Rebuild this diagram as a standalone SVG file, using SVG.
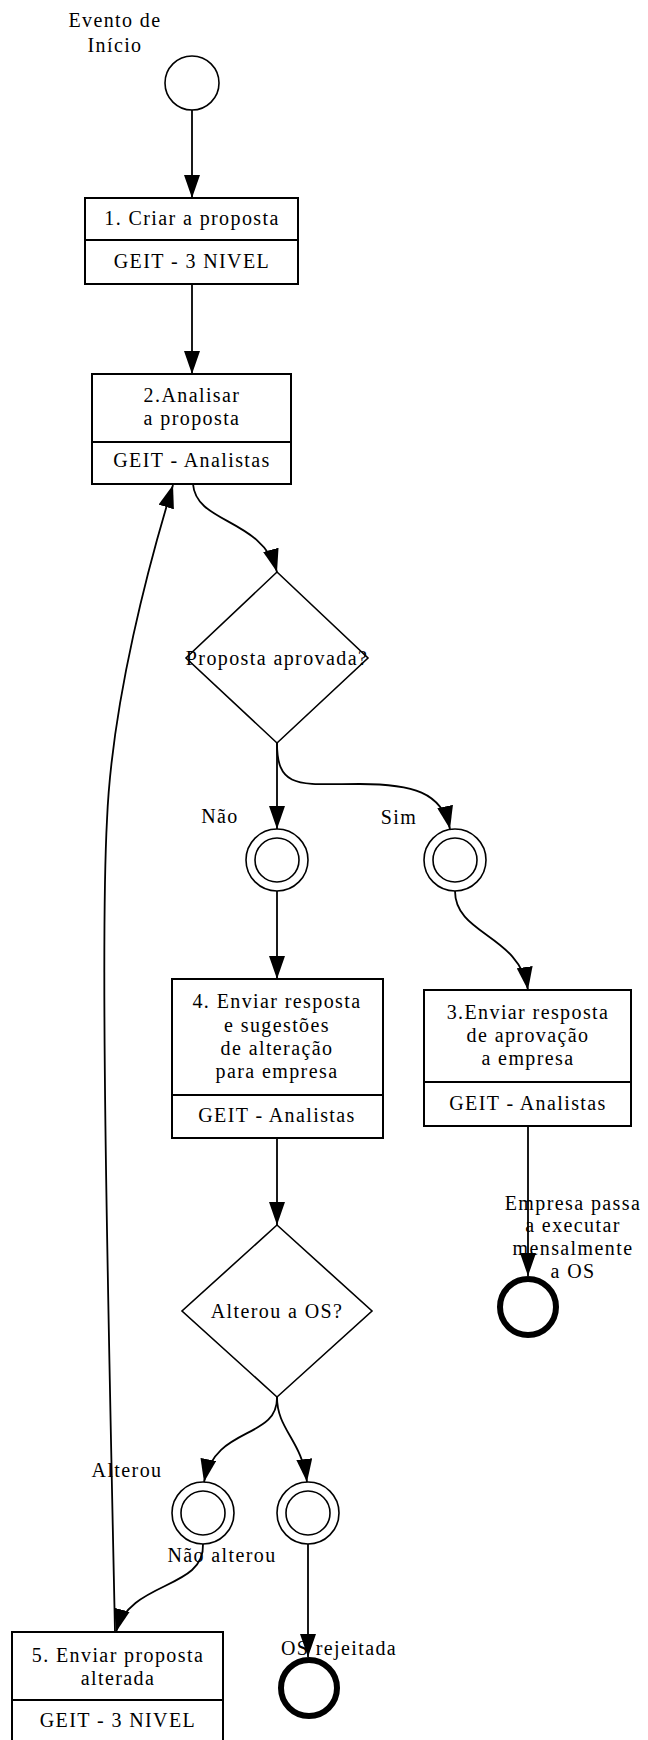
<svg xmlns="http://www.w3.org/2000/svg" width="648" height="1740" viewBox="0 0 648 1740">
<defs>
<marker id="arr" viewBox="0 0 23 16" refX="23" refY="8" markerWidth="23" markerHeight="16" markerUnits="userSpaceOnUse" orient="auto"><path d="M0,0 L23,8 L0,16 z" fill="#000"/></marker>
</defs>
<style>
text{font-family:"Liberation Serif","Times New Roman",serif;font-size:20px;letter-spacing:1.4px;text-anchor:middle;fill:#000}
.box{fill:#fff;stroke:#000;stroke-width:2}
.div{stroke:#000;stroke-width:2}
.dia{fill:#fff;stroke:#000;stroke-width:1.6}
.ev{fill:#fff;stroke:#000;stroke-width:1.6}
.end{fill:#fff;stroke:#000;stroke-width:6}
.edge{fill:none;stroke:#000;stroke-width:1.8;marker-end:url(#arr)}
</style>
<rect width="648" height="1740" fill="#fff"/>

<g id="start">
<circle class="ev" cx="192" cy="83" r="27"/>
<text x="115" y="27">Evento de</text>
<text x="115" y="52">Início</text>
</g>
<g id="task1">
<rect class="box" x="85" y="198" width="213" height="86"/>
<line class="div" x1="85" y1="240" x2="298" y2="240"/>
<text x="192" y="225">1. Criar a proposta</text>
<text x="192" y="268">GEIT - 3 NIVEL</text>
</g>
<g id="task2">
<rect class="box" x="92" y="374" width="199" height="110"/>
<line class="div" x1="92" y1="442" x2="291" y2="442"/>
<text x="192" y="402">2.Analisar</text>
<text x="192" y="425">a proposta</text>
<text x="192" y="467">GEIT - Analistas</text>
</g>
<g id="decision1">
<polygon class="dia" points="277,572 368,658 277,743 186,658"/>
<text x="277" y="665">Proposta aprovada?</text>
</g>
<g id="gwNao">
<circle class="ev" cx="277" cy="860" r="31"/>
<circle class="ev" cx="277" cy="860" r="22"/>
</g>
<g id="gwSim">
<circle class="ev" cx="455" cy="860" r="31"/>
<circle class="ev" cx="455" cy="860" r="22"/>
</g>
<g id="task4">
<rect class="box" x="172" y="979" width="211" height="159"/>
<line class="div" x1="172" y1="1095" x2="383" y2="1095"/>
<text x="277" y="1008">4. Enviar resposta</text>
<text x="277" y="1032">e sugestões</text>
<text x="277" y="1055">de alteração</text>
<text x="277" y="1078">para empresa</text>
<text x="277" y="1122">GEIT - Analistas</text>
</g>
<g id="task3">
<rect class="box" x="424" y="990" width="207" height="136"/>
<line class="div" x1="424" y1="1082" x2="631" y2="1082"/>
<text x="528" y="1019">3.Enviar resposta</text>
<text x="528" y="1042">de aprovação</text>
<text x="528" y="1065">a empresa</text>
<text x="528" y="1110">GEIT - Analistas</text>
</g>
<g id="end1">
<circle class="end" cx="528" cy="1307" r="28"/>
</g>
<g id="decision2">
<polygon class="dia" points="277,1225 372,1311 277,1397 182,1311"/>
<text x="277" y="1318">Alterou a OS?</text>
</g>
<g id="gwAlterou">
<circle class="ev" cx="203" cy="1513" r="31"/>
<circle class="ev" cx="203" cy="1513" r="22"/>
</g>
<g id="gwNaoAlterou">
<circle class="ev" cx="308" cy="1513" r="31"/>
<circle class="ev" cx="308" cy="1513" r="22"/>
</g>
<g id="task5">
<rect class="box" x="12" y="1632" width="211" height="112"/>
<line class="div" x1="12" y1="1700" x2="223" y2="1700"/>
<text x="118" y="1662">5. Enviar proposta</text>
<text x="118" y="1685">alterada</text>
<text x="118" y="1727">GEIT - 3 NIVEL</text>
</g>
<g id="end2">
<circle class="end" cx="309" cy="1688" r="28"/>
</g>

<g id="connectors">
<path class="edge" d="M192,110 L192,198"/>
<path class="edge" d="M192,284 L192,374"/>
<path class="edge" d="M193,484 C196,524 262,518 277,572"/>
<path class="edge" d="M277,743 L277,829"/>
<path class="edge" d="M277,743 C277,790 300,784 360,784 C412,784 442,792 450,829"/>
<path class="edge" d="M277,891 L277,979"/>
<path class="edge" d="M455,891 C455,935 520,935 528,990"/>
<path class="edge" d="M528,1126 L528,1276"/>
<path class="edge" d="M277,1138 L277,1225"/>
<path class="edge" d="M277,1397 C278,1440 215,1425 204,1482"/>
<path class="edge" d="M277,1397 C277,1430 302,1440 307,1482"/>
<path class="edge" d="M203,1544 C205,1590 130,1580 116,1632"/>
<path class="edge" d="M308,1544 L308,1657"/>
<path class="edge" d="M115,1632 C108,1300 100,950 107,820 C112,700 150,560 173,485"/>
<text x="220" y="823">Não</text>
<text x="399" y="824">Sim</text>
<text x="573" y="1210">Empresa passa</text>
<text x="573" y="1232">a executar</text>
<text x="573" y="1255">mensalmente</text>
<text x="573" y="1278">a OS</text>
<text x="127" y="1477">Alterou</text>
<text x="222" y="1562">Não alterou</text>
<text x="339" y="1655">OS rejeitada</text>
</g>
</svg>
